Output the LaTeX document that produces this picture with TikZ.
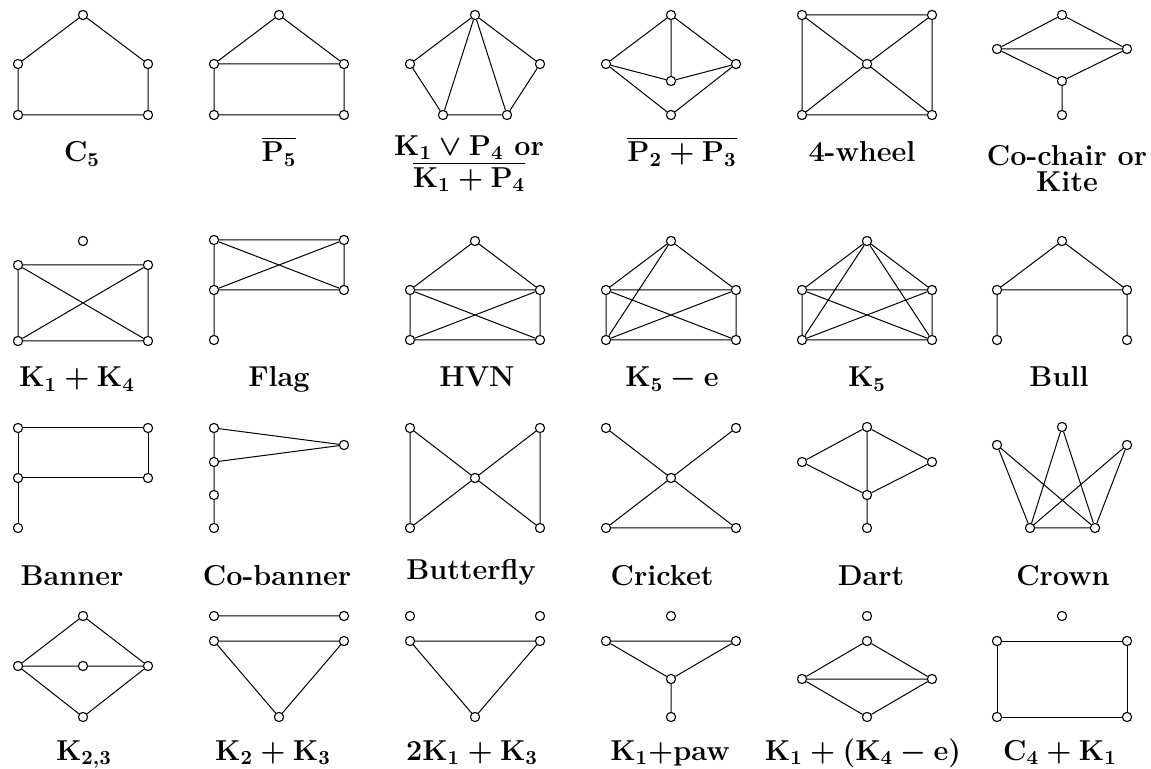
\documentclass[tikz,border=0pt]{standalone}
\usepackage{amsmath}
\begin{document}
\begin{tikzpicture}[x=0.5pt,y=-0.5pt,line width=0.5pt,
  v/.style={circle,draw,fill=white,inner sep=0pt,minimum size=4.6pt,line width=0.55pt},
  lab/.style={anchor=base,inner sep=0pt,font=\Large\bfseries\boldmath},
  labtwo/.style={anchor=north,inner sep=0pt,align=center,font=\Large\bfseries\boldmath}]
\useasboundingbox (0,0) rectangle (1151,769);
% Row 1
\foreach \n/\x/\y in {ga1/83/15,ga2/18/64,ga3/148/64,ga4/18/115,ga5/148/115} \node[v] (\n) at (\x,\y) {};
\draw (ga1)--(ga2) (ga1)--(ga3) (ga2)--(ga4) (ga3)--(ga5) (ga4)--(ga5);
\node[lab] (la) at (82,162) {$\mathbf{C_5}$};

\foreach \n/\x/\y in {gb1/279/15,gb2/214/64,gb3/344/64,gb4/214/115,gb5/344/115} \node[v] (\n) at (\x,\y) {};
\draw (gb1)--(gb2) (gb1)--(gb3) (gb2)--(gb3) (gb2)--(gb4) (gb3)--(gb5) (gb4)--(gb5);
\node[lab] (lb) at (279,162) {$\overline{\mathbf{P_5}}$};

\foreach \n/\x/\y in {gc1/475/15,gc2/410/64,gc3/540/64,gc4/443/115,gc5/507/115} \node[v] (\n) at (\x,\y) {};
\draw (gc1)--(gc2) (gc1)--(gc3) (gc1)--(gc4) (gc1)--(gc5) (gc2)--(gc4) (gc3)--(gc5) (gc4)--(gc5);
\node[labtwo] (lc) at (469,135) {$\mathbf{K_1\vee P_4}$ or\\[-2pt]$\overline{\mathbf{K_1+P_4}}$};

\foreach \n/\x/\y in {gd1/671/15,gd2/606/64,gd3/736/64,gd4/671/81,gd5/671/115} \node[v] (\n) at (\x,\y) {};
\draw (gd1)--(gd2) (gd1)--(gd3) (gd1)--(gd4) (gd2)--(gd4) (gd3)--(gd4) (gd2)--(gd5) (gd3)--(gd5);
\node[lab] (ld) at (682,162) {$\overline{\mathbf{P_2+P_3}}$};

\foreach \n/\x/\y in {ge1/802/15,ge2/932/15,ge3/867/64,ge4/802/115,ge5/932/115} \node[v] (\n) at (\x,\y) {};
\draw (ge1)--(ge2) (ge2)--(ge5) (ge5)--(ge4) (ge4)--(ge1) (ge3)--(ge1) (ge3)--(ge2) (ge3)--(ge4) (ge3)--(ge5);
\node[lab] (le) at (862,162) {4-wheel};

\foreach \n/\x/\y in {gf1/1062/15,gf2/997/49,gf3/1127/49,gf4/1062/81,gf5/1062/115} \node[v] (\n) at (\x,\y) {};
\draw (gf1)--(gf2) (gf1)--(gf3) (gf2)--(gf3) (gf2)--(gf4) (gf3)--(gf4) (gf4)--(gf5);
\node[labtwo] (lf) at (1067,145) {Co-chair or\\[-5pt]Kite};

% Row 2
\foreach \n/\x/\y in {gg1/83/241,gg2/18/265,gg3/148/265,gg4/18/341,gg5/148/341} \node[v] (\n) at (\x,\y) {};
\draw (gg2)--(gg3) (gg2)--(gg4) (gg2)--(gg5) (gg3)--(gg4) (gg3)--(gg5) (gg4)--(gg5);
\node[lab] (lg) at (77,387) {$\mathbf{K_1+K_4}$};

\foreach \n/\x/\y in {gh1/214/240,gh2/344/240,gh3/214/290,gh4/344/290,gh5/214/340} \node[v] (\n) at (\x,\y) {};
\draw (gh1)--(gh2) (gh1)--(gh3) (gh1)--(gh4) (gh2)--(gh3) (gh2)--(gh4) (gh3)--(gh4) (gh3)--(gh5);
\node[lab] (lh) at (279,387) {Flag};

\foreach \n/\x/\y in {gi1/475/241,gi2/410/290,gi3/540/290,gi4/410/340,gi5/540/340} \node[v] (\n) at (\x,\y) {};
\draw (gi1)--(gi2) (gi1)--(gi3) (gi2)--(gi3) (gi2)--(gi4) (gi3)--(gi5) (gi4)--(gi5) (gi2)--(gi5) (gi3)--(gi4);
\node[lab] (li) at (477,387) {HVN};

\foreach \n/\x/\y in {gj1/671/241,gj2/606/290,gj3/736/290,gj4/606/340,gj5/736/340} \node[v] (\n) at (\x,\y) {};
\draw (gj1)--(gj2) (gj1)--(gj3) (gj1)--(gj4) (gj2)--(gj3) (gj2)--(gj4) (gj3)--(gj5) (gj4)--(gj5) (gj2)--(gj5) (gj3)--(gj4);
\node[lab] (lj) at (672,387) {$\mathbf{K_5-e}$};

\foreach \n/\x/\y in {gk1/867/241,gk2/802/290,gk3/932/290,gk4/802/340,gk5/932/340} \node[v] (\n) at (\x,\y) {};
\draw (gk1)--(gk2) (gk1)--(gk3) (gk1)--(gk4) (gk1)--(gk5) (gk2)--(gk3) (gk2)--(gk4) (gk3)--(gk5) (gk4)--(gk5) (gk2)--(gk5) (gk3)--(gk4);
\node[lab] (lk) at (867,387) {$\mathbf{K_5}$};

\foreach \n/\x/\y in {gl1/1062/241,gl2/997/290,gl3/1127/290,gl4/997/340,gl5/1127/340} \node[v] (\n) at (\x,\y) {};
\draw (gl1)--(gl2) (gl1)--(gl3) (gl2)--(gl3) (gl2)--(gl4) (gl3)--(gl5);
\node[lab] (ll) at (1059,387) {Bull};

% Row 3
\foreach \n/\x/\y in {gm1/18/428,gm2/148/428,gm3/18/478,gm4/148/478,gm5/18/528} \node[v] (\n) at (\x,\y) {};
\draw (gm1)--(gm2) (gm1)--(gm3) (gm2)--(gm4) (gm3)--(gm4) (gm3)--(gm5);
\node[lab] (lm) at (72,586) {Banner};

\foreach \n/\x/\y in {gn1/214/428,gn2/214/462,gn3/214/495,gn4/214/528,gn5/344/445} \node[v] (\n) at (\x,\y) {};
\draw (gn1)--(gn5) (gn2)--(gn5) (gn1)--(gn2) (gn2)--(gn3) (gn3)--(gn4);
\node[lab] (ln) at (277,586) {Co-banner};

\foreach \n/\x/\y in {go1/410/428,go2/540/428,go3/475/478,go4/410/528,go5/540/528} \node[v] (\n) at (\x,\y) {};
\draw (go1)--(go4) (go2)--(go5) (go1)--(go3) (go2)--(go3) (go3)--(go4) (go3)--(go5);
\node[lab] (lo) at (471,580) {Butterfly};

\foreach \n/\x/\y in {gp1/606/428,gp2/736/428,gp3/671/478,gp4/606/528,gp5/736/528} \node[v] (\n) at (\x,\y) {};
\draw (gp1)--(gp3) (gp2)--(gp3) (gp3)--(gp4) (gp3)--(gp5) (gp4)--(gp5);
\node[lab] (lp) at (662,586) {Cricket};

\foreach \n/\x/\y in {gq1/867/427,gq2/802/462,gq3/932/462,gq4/867/495,gq5/867/528} \node[v] (\n) at (\x,\y) {};
\draw (gq1)--(gq2) (gq1)--(gq3) (gq1)--(gq4) (gq2)--(gq4) (gq3)--(gq4) (gq4)--(gq5);
\node[lab] (lq) at (871,586) {Dart};

\foreach \n/\x/\y in {gr1/1062/427,gr2/997/445,gr3/1127/445,gr4/1030/528,gr5/1095/528} \node[v] (\n) at (\x,\y) {};
\draw (gr1)--(gr4) (gr1)--(gr5) (gr2)--(gr4) (gr2)--(gr5) (gr3)--(gr4) (gr3)--(gr5) (gr4)--(gr5);
\node[lab] (lr) at (1063,586) {Crown};

% Row 4
\foreach \n/\x/\y in {gs1/83/616,gs2/18/666,gs3/83/666,gs4/148/666,gs5/83/717} \node[v] (\n) at (\x,\y) {};
\draw (gs1)--(gs2) (gs1)--(gs4) (gs2)--(gs3) (gs3)--(gs4) (gs2)--(gs5) (gs4)--(gs5);
\node[lab] (ls) at (84,760) {$\mathbf{K_{2,3}}$};

\foreach \n/\x/\y in {gt1/214/616,gt2/344/616,gt3/214/641,gt4/344/641,gt5/279/717} \node[v] (\n) at (\x,\y) {};
\draw (gt1)--(gt2) (gt3)--(gt4) (gt3)--(gt5) (gt4)--(gt5);
\node[lab] (lt) at (273,760) {$\mathbf{K_2+K_3}$};

\foreach \n/\x/\y in {gu1/410/616,gu2/540/616,gu3/410/641,gu4/540/641,gu5/475/717} \node[v] (\n) at (\x,\y) {};
\draw (gu3)--(gu4) (gu3)--(gu5) (gu4)--(gu5);
\node[lab] (lu) at (472,760) {$\mathbf{2K_1+K_3}$};

\foreach \n/\x/\y in {gv1/671/616,gv2/606/641,gv3/736/641,gv4/671/679,gv5/671/717} \node[v] (\n) at (\x,\y) {};
\draw (gv2)--(gv3) (gv2)--(gv4) (gv3)--(gv4) (gv4)--(gv5);
\node[lab] (lv) at (670,760) {$\mathbf{K_1}$+paw};

\foreach \n/\x/\y in {gw1/867/616,gw2/867/641,gw3/802/679,gw4/932/679,gw5/867/717} \node[v] (\n) at (\x,\y) {};
\draw (gw2)--(gw3) (gw2)--(gw4) (gw3)--(gw4) (gw3)--(gw5) (gw4)--(gw5);
\node[lab] (lw) at (863,760) {$\mathbf{K_1+(K_4-e)}$};

\foreach \n/\x/\y in {gx1/1062/616,gx2/997/641,gx3/1127/641,gx4/997/717,gx5/1127/717} \node[v] (\n) at (\x,\y) {};
\draw (gx2)--(gx3) (gx3)--(gx5) (gx5)--(gx4) (gx4)--(gx2);
\node[lab] (lx) at (1060,760) {$\mathbf{C_4+K_1}$};
\end{tikzpicture}
\end{document}
